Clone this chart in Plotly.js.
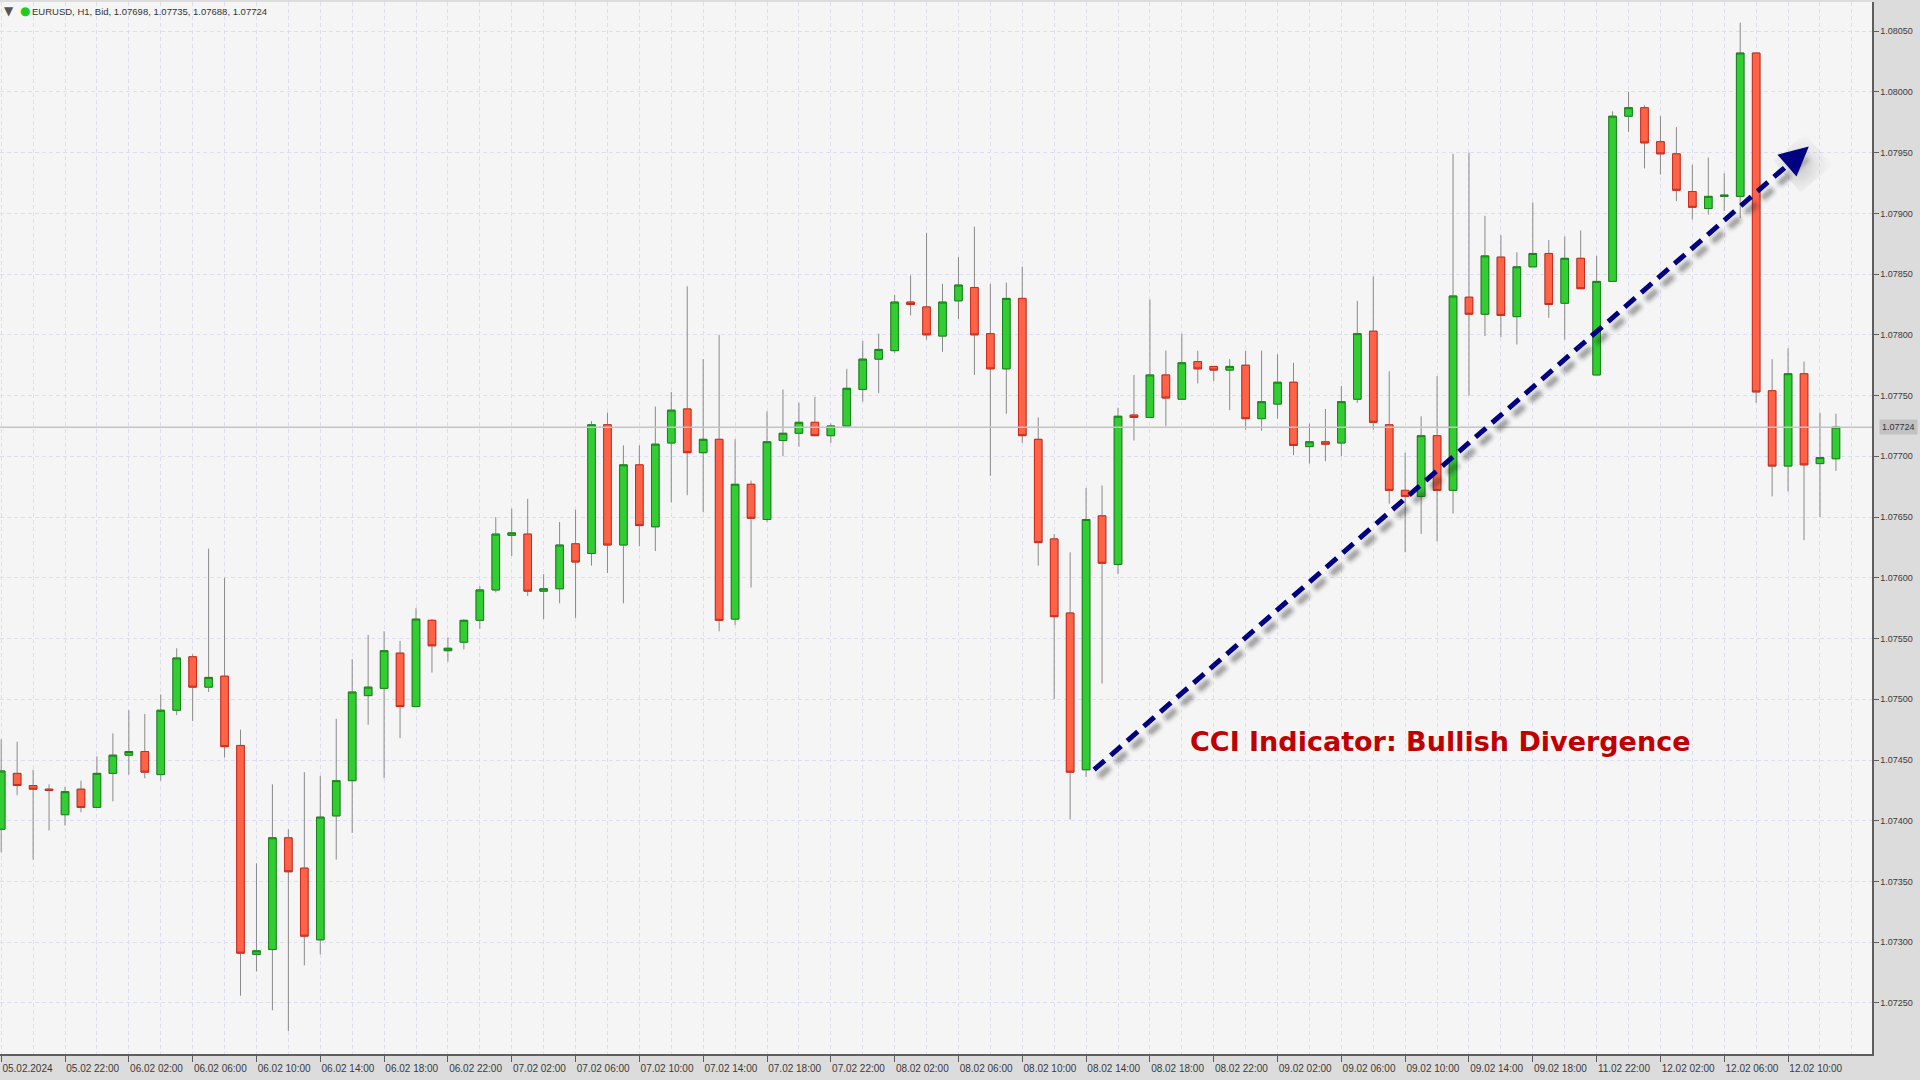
<!DOCTYPE html>
<html>
<head>
<meta charset="utf-8">
<script src="https://cdn.plot.ly/plotly-3.0.1.min.js"></script>
<style>
  html, body { margin: 0; padding: 0; background: #DCDCDC; }
  #chart { width: 1920px; height: 1080px; }
</style>
</head>
<body>
<div id="chart"></div>
<script>
// ---- Data (EURUSD H1) ----
const symbolInfo = 'EURUSD, H1, Bid, 1.07698, 1.07735, 1.07688, 1.07724';

const open = [
  1.07393,1.07439,1.07429,1.07426,1.07405,1.07426,1.07411,1.07439,1.07454,1.07457,
  1.07438,1.07491,1.07535,1.07510,1.07519,1.07462,1.07290,1.07294,1.07386,1.07361,
  1.07302,1.07404,1.07433,1.07503,1.07509,1.07538,1.07494,1.07565,1.07540,1.07547,
  1.07565,1.07590,1.07635,1.07636,1.07589,1.07591,1.07628,1.07620,1.07726,1.07627,
  1.07693,1.07642,1.07711,1.07739,1.07703,1.07714,1.07566,1.07677,1.07648,1.07713,
  1.07719,1.07728,1.07717,1.07725,1.07755,1.07780,1.07787,1.07827,1.07823,1.07799,
  1.07828,1.07839,1.07801,1.07772,1.07830,1.07714,1.07632,1.07571,1.07442,1.07651,
  1.07611,1.07734,1.07732,1.07767,1.07747,1.07778,1.07774,1.07771,1.07775,1.07731,
  1.07743,1.07761,1.07708,1.07712,1.07711,1.07747,1.07803,1.07726,1.07672,1.07667,
  1.07717,1.07672,1.07831,1.07817,1.07864,1.07815,1.07856,1.07867,1.07826,1.07863,
  1.07767,1.07844,1.07980,1.07987,1.07959,1.07949,1.07918,1.07904,1.07914,1.07914,
  1.08032,1.07754,1.07692,1.07768,1.07694,1.07698
];
const high = [
  1.07467,1.07465,1.07442,1.07430,1.07428,1.07433,1.07453,1.07472,1.07491,1.07488,
  1.07504,1.07542,1.07537,1.07624,1.07600,1.07475,1.07365,1.07430,1.07393,1.07440,
  1.07437,1.07484,1.07533,1.07553,1.07556,1.07548,1.07575,1.07566,1.07551,1.07566,
  1.07593,1.07650,1.07657,1.07665,1.07603,1.07646,1.07656,1.07729,1.07736,1.07709,
  1.07709,1.07741,1.07753,1.07840,1.07780,1.07800,1.07714,1.07680,1.07737,1.07755,
  1.07744,1.07749,1.07727,1.07772,1.07795,1.07801,1.07833,1.07849,1.07884,1.07842,
  1.07864,1.07889,1.07842,1.07843,1.07856,1.07732,1.07636,1.07621,1.07674,1.07676,
  1.07740,1.07767,1.07829,1.07787,1.07801,1.07787,1.07774,1.07780,1.07787,1.07787,
  1.07784,1.07777,1.07727,1.07739,1.07758,1.07828,1.07848,1.07770,1.07703,1.07733,
  1.07766,1.07949,1.07950,1.07898,1.07882,1.07868,1.07909,1.07878,1.07881,1.07886,
  1.07865,1.07984,1.08000,1.07989,1.07980,1.07971,1.07940,1.07946,1.07933,1.08057,
  1.08032,1.07780,1.07789,1.07778,1.07736,1.07735
];
const low = [
  1.07374,1.07421,1.07368,1.07392,1.07396,1.07407,1.07411,1.07416,1.07438,1.07435,
  1.07433,1.07487,1.07482,1.07506,1.07452,1.07256,1.07276,1.07244,1.07227,1.07281,
  1.07290,1.07368,1.07390,1.07479,1.07435,1.07468,1.07494,1.07522,1.07531,1.07541,
  1.07558,1.07588,1.07618,1.07585,1.07566,1.07579,1.07567,1.07610,1.07604,1.07579,
  1.07626,1.07622,1.07662,1.07668,1.07654,1.07556,1.07561,1.07592,1.07646,1.07700,
  1.07708,1.07717,1.07711,1.07725,1.07745,1.07752,1.07785,1.07816,1.07796,1.07786,
  1.07813,1.07767,1.07684,1.07735,1.07711,1.07610,1.07500,1.07401,1.07436,1.07513,
  1.07603,1.07713,1.07732,1.07725,1.07747,1.07760,1.07762,1.07738,1.07722,1.07721,
  1.07731,1.07701,1.07694,1.07696,1.07700,1.07744,1.07722,1.07661,1.07621,1.07636,
  1.07630,1.07653,1.07750,1.07799,1.07798,1.07792,1.07856,1.07814,1.07796,1.07838,
  1.07767,1.07844,1.07967,1.07937,1.07932,1.07910,1.07895,1.07899,1.07902,1.07896,
  1.07744,1.07667,1.07671,1.07631,1.07650,1.07688
];
const close = [
  1.07441,1.07429,1.07426,1.07425,1.07424,1.07411,1.07439,1.07454,1.07457,1.07440,
  1.07491,1.07534,1.07510,1.07518,1.07461,1.07291,1.07293,1.07386,1.07358,1.07305,
  1.07403,1.07433,1.07506,1.07510,1.07540,1.07494,1.07566,1.07544,1.07542,1.07565,
  1.07590,1.07636,1.07637,1.07589,1.07591,1.07627,1.07613,1.07726,1.07627,1.07693,
  1.07643,1.07710,1.07738,1.07703,1.07714,1.07565,1.07677,1.07649,1.07712,1.07719,
  1.07728,1.07717,1.07725,1.07756,1.07780,1.07788,1.07827,1.07825,1.07800,1.07827,
  1.07841,1.07800,1.07772,1.07830,1.07717,1.07629,1.07568,1.07440,1.07648,1.07612,
  1.07733,1.07732,1.07767,1.07748,1.07777,1.07772,1.07771,1.07774,1.07731,1.07745,
  1.07761,1.07709,1.07712,1.07710,1.07745,1.07801,1.07728,1.07672,1.07667,1.07717,
  1.07672,1.07832,1.07817,1.07865,1.07816,1.07856,1.07867,1.07825,1.07863,1.07838,
  1.07844,1.07980,1.07987,1.07958,1.07949,1.07919,1.07905,1.07914,1.07915,1.08032,
  1.07753,1.07692,1.07768,1.07693,1.07699,1.07724
];
// one label every 4 bars, starting at the first bar
const xTickLabels = [
  '05.02.2024','05.02 22:00','06.02 02:00','06.02 06:00','06.02 10:00','06.02 14:00',
  '06.02 18:00','06.02 22:00','07.02 02:00','07.02 06:00','07.02 10:00','07.02 14:00',
  '07.02 18:00','07.02 22:00','08.02 02:00','08.02 06:00','08.02 10:00','08.02 14:00',
  '08.02 18:00','08.02 22:00','09.02 02:00','09.02 06:00','09.02 10:00','09.02 14:00',
  '09.02 18:00','11.02 22:00','12.02 02:00','12.02 06:00','12.02 10:00'
];
const barsPerLabel = 4;
const annotationText = 'CCI Indicator: Bullish Divergence';
// divergence arrow (from the low bar's body to the upper right)
const arrowStart = [68.5, 1.07442];
const arrowTip = [113.3, 1.07955];

// ---- Derived ----
const xIdx = open.map((_, i) => i);
const bodyHigh = open.map((o, i) => Math.max(o, close[i]));
const bodyLow = open.map((o, i) => Math.min(o, close[i]));
const tickVals = xTickLabels.map((_, i) => i * barsPerLabel);
const lastClose = close[close.length - 1];

const W = 1920, H = 1080;
const M = { l: 0, r: 48, t: 2, b: 26 };

const GREEN = '#32CD32', GREEN_LINE = '#17841A';
const RED = '#FF6347', RED_LINE = '#CC2A1C';
const WICK = '#8A8A8A';
const GRID = '#DEDEF2';
const AXIS = '#5E5E5E';
const NAVY = '#000080';
const tickFontFamily = '"Liberation Sans", Arial, sans-serif';

// wick trace (full range) under body trace (body only)
const wickTrace = {
  type: 'candlestick', x: xIdx, open: open, high: high, low: low, close: close,
  increasing: { line: { color: WICK, width: 1 }, fillcolor: WICK },
  decreasing: { line: { color: WICK, width: 1 }, fillcolor: WICK },
  whiskerwidth: 0, hoverinfo: 'skip', showlegend: false
};
const bodyTrace = {
  type: 'candlestick', x: xIdx, open: open, high: bodyHigh, low: bodyLow, close: close,
  increasing: { line: { color: GREEN_LINE, width: 1 }, fillcolor: GREEN },
  decreasing: { line: { color: RED_LINE, width: 1 }, fillcolor: RED },
  whiskerwidth: 0, hoverinfo: 'skip', showlegend: false
};

// arrow geometry helpers (annotation positions)
const slope = (arrowTip[1] - arrowStart[1]) / (arrowTip[0] - arrowStart[0]);
const headBack = 1.35; // bars back from tip where the head starts
const shaftEnd = [arrowTip[0] - headBack, arrowTip[1] - headBack * slope];
const plotW = W - M.l - M.r, plotH = H - M.t - M.b;
const xRange = [-0.075, 117.26];
const yRange = [1.07208, 1.08074];
const pxX = (xRange[1] - xRange[0]) / plotW;
const pxY = (yRange[1] - yRange[0]) / plotH;
const sh = { dx: 5 * pxX, dy: -7 * pxY };

const shapes = [
  { type: 'line', xref: 'paper', x0: 0, x1: 1, yref: 'y', y0: lastClose, y1: lastClose,
    line: { color: '#C4C4C4', width: 1.5 }, layer: 'above' },
  { type: 'line', xref: 'x', yref: 'y',
    x0: arrowStart[0] + sh.dx, y0: arrowStart[1] + sh.dy, x1: shaftEnd[0] + sh.dx, y1: shaftEnd[1] + sh.dy,
    line: { color: 'rgba(40,40,40,0.45)', width: 6, dash: '14px,8px' }, layer: 'above' },
  { type: 'line', xref: 'x', yref: 'y',
    x0: arrowStart[0], y0: arrowStart[1], x1: shaftEnd[0], y1: shaftEnd[1],
    line: { color: NAVY, width: 5, dash: '14px,8px' }, layer: 'above' }
];

const annotations = [
  // arrowhead shadow
  { x: arrowTip[0], y: arrowTip[1], xref: 'x', yref: 'y', ax: shaftEnd[0], ay: shaftEnd[1],
    axref: 'x', ayref: 'y', text: '', showarrow: true, arrowhead: 2, arrowsize: 1.45, arrowwidth: 4,
    arrowcolor: 'rgba(40,40,40,0.45)', xshift: 5, yshift: -7, standoff: 0 },
  // arrowhead
  { x: arrowTip[0], y: arrowTip[1], xref: 'x', yref: 'y', ax: shaftEnd[0], ay: shaftEnd[1],
    axref: 'x', ayref: 'y', text: '', showarrow: true, arrowhead: 2, arrowsize: 1.45, arrowwidth: 4,
    arrowcolor: NAVY, standoff: 0 },
  // label
  { x: 90.2, y: 1.07465, xref: 'x', yref: 'y', text: annotationText, showarrow: false,
    xanchor: 'center', yanchor: 'middle',
    font: { family: '"DejaVu Sans", Verdana, sans-serif', size: 27, color: '#C00000', weight: 'bold' } },
  // header
  { x: 0, y: 1, xref: 'paper', yref: 'paper', xanchor: 'left', yanchor: 'middle', xshift: 2, yshift: -9,
    text: '▼', showarrow: false, font: { family: '"DejaVu Sans", sans-serif', size: 12, color: '#555555' } },
  { x: 0, y: 1, xref: 'paper', yref: 'paper', xanchor: 'left', yanchor: 'middle', xshift: 18, yshift: -9,
    text: '●', showarrow: false, font: { family: '"DejaVu Sans", sans-serif', size: 12, color: '#1ECC1E' } },
  { x: 0, y: 1, xref: 'paper', yref: 'paper', xanchor: 'left', yanchor: 'middle', xshift: 30, yshift: -9,
    text: symbolInfo, showarrow: false, font: { family: tickFontFamily, size: 9.5, color: '#333333' } },
  // current price tag
  { x: 1, y: lastClose, xref: 'paper', yref: 'y', xanchor: 'left', yanchor: 'middle', xshift: 7,
    text: lastClose.toFixed(5), showarrow: false, bgcolor: '#C2C2C2', borderpad: 2,
    font: { family: tickFontFamily, size: 9, color: '#333333' } }
];

const layout = {
  width: W, height: H,
  margin: M,
  paper_bgcolor: '#DCDCDC',
  plot_bgcolor: '#F5F5F5',
  showlegend: false,
  hovermode: false,
  dragmode: false,
  boxgap: 0.32,
  xaxis: {
    type: 'linear', range: xRange, fixedrange: true,
    rangeslider: { visible: false },
    tickmode: 'array', tickvals: tickVals, ticktext: xTickLabels,
    tickangle: 0, automargin: false,
    ticklabelposition: 'outside right', ticklabelstandoff: 4,
    ticks: 'outside', ticklen: 6, tickwidth: 1, tickcolor: AXIS,
    showline: true, linecolor: AXIS, linewidth: 1.5,
    showgrid: true, gridcolor: GRID, griddash: '4px,3px', gridwidth: 1,
    minor: { tickmode: 'linear', tick0: 0, dtick: 2, showgrid: true, gridcolor: GRID, griddash: '4px,3px', gridwidth: 1, ticks: '' },
    zeroline: false,
    tickfont: { family: tickFontFamily, size: 10, color: '#3A3A3A' }
  },
  yaxis: {
    side: 'right', range: yRange, fixedrange: true, automargin: false,
    tickmode: 'linear', tick0: 1.0725, dtick: 0.0005, tickformat: '.5f',
    ticks: 'outside', ticklen: 5, tickwidth: 1, tickcolor: AXIS,
    showline: true, linecolor: AXIS, linewidth: 1.5,
    showgrid: true, gridcolor: GRID, griddash: '4px,3px', gridwidth: 1,
    zeroline: false,
    tickfont: { family: tickFontFamily, size: 9, color: '#3A3A3A' }
  },
  shapes: shapes,
  annotations: annotations
};

Plotly.newPlot('chart', [wickTrace, bodyTrace], layout, { displayModeBar: false, staticPlot: true })
  .then(function (gd) {
    // soft drop shadow for the arrow
    const svg = gd.querySelector('svg.main-svg');
    const ns = 'http://www.w3.org/2000/svg';
    let defs = svg.querySelector('defs');
    if (!defs) { defs = document.createElementNS(ns, 'defs'); svg.insertBefore(defs, svg.firstChild); }
    const f = document.createElementNS(ns, 'filter');
    f.setAttribute('id', 'softShadow');
    f.setAttribute('x', '-20%'); f.setAttribute('y', '-20%');
    f.setAttribute('width', '140%'); f.setAttribute('height', '140%');
    const b = document.createElementNS(ns, 'feGaussianBlur');
    b.setAttribute('stdDeviation', '2');
    f.appendChild(b); defs.appendChild(f);
    gd.querySelectorAll('path[data-index="1"]').forEach(function (p) {
      if (p.closest('.shapelayer')) p.setAttribute('filter', 'url(#softShadow)');
    });
    const ann = gd.querySelectorAll('.annotation');
    if (ann[0]) ann[0].querySelectorAll('path').forEach(function (p) { p.setAttribute('filter', 'url(#softShadow)'); });
  });
</script>
</body>
</html>
